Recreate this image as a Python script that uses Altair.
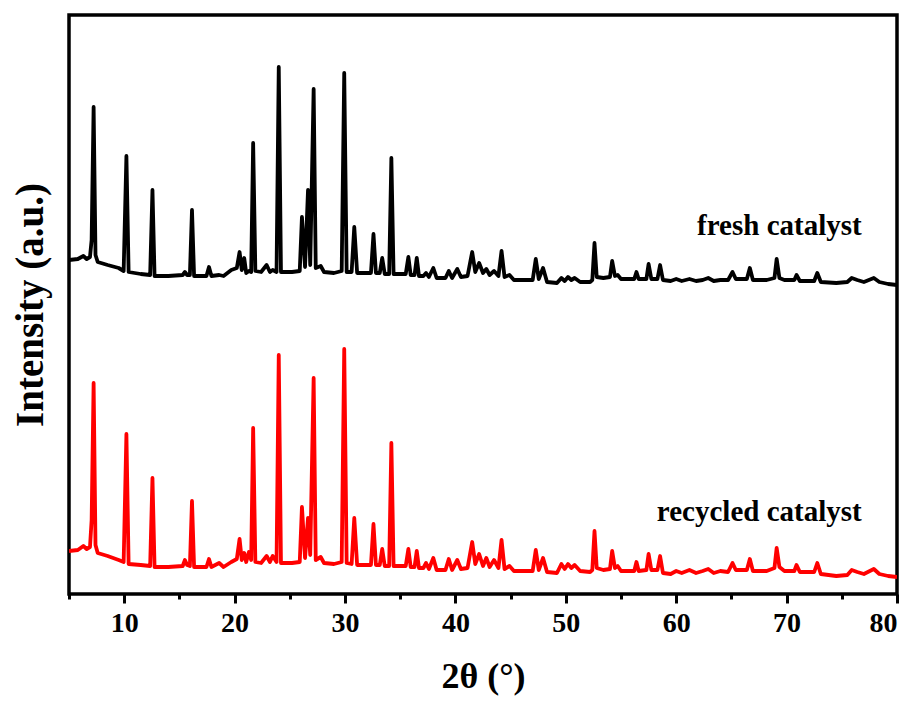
import altair as alt
import pandas as pd

# 2-theta positions of the traced vertices (degrees)
theta = [5.0, 5.8, 6.3, 6.6, 6.9, 7.05, 7.23, 7.4, 7.6, 8.5, 9.5, 9.95, 10.2, 10.4, 11.5,
         12.35, 12.56, 12.75, 14.0, 15.3, 15.5, 15.7, 15.95, 16.14, 16.33, 17.45, 17.68, 17.9,
         18.6, 19.0, 19.7, 20.2, 20.45, 20.65, 20.87, 21.05, 21.3, 21.5, 21.68, 21.88, 22.4,
         22.9, 23.2, 23.45, 23.8, 24.0, 24.2, 25.2, 25.9, 26.1, 26.38, 26.65, 26.85, 27.16,
         27.35, 27.8, 28.1, 29.0, 29.7, 29.93, 30.15, 30.6, 30.84, 31.1, 32.35, 32.58, 32.8,
         33.15, 33.37, 33.6, 34.0, 34.2, 34.4, 35.5, 35.74, 35.95, 36.3, 36.5, 36.7, 37.1,
         37.34, 37.6, 38.0, 38.3, 39.1, 39.4, 39.7, 40.17, 40.5, 41.1, 41.52, 41.8, 42.15,
         42.5, 42.8, 43.1, 43.5, 43.9, 44.18, 44.45, 44.9, 45.3, 46.0, 47.0, 47.28, 47.55,
         47.94, 48.3, 49.2, 49.6, 49.9, 50.2, 50.5, 50.8, 51.3, 52.2, 52.4, 52.6, 52.8, 53.4,
         54.0, 54.2, 54.45, 54.7, 55.0, 56.2, 56.4, 56.6, 57.3, 57.5, 57.75, 58.3, 58.54,
         58.8, 59.5, 60.0, 60.5, 61.2, 61.8, 62.4, 62.9, 63.4, 64.0, 64.7, 65.1, 65.4, 66.4,
         66.67, 66.95, 68.2, 68.9, 69.1, 69.35, 69.8, 70.7, 70.9, 71.2, 72.5, 72.78, 73.1,
         74.5, 75.5, 75.9, 76.4, 77.0, 77.9, 78.4, 79.2, 80.0]

# intensities (a.u., offset as plotted) of the fresh catalyst
fresh = [334, 335, 338, 335, 337, 354, 487, 339, 332, 329, 326, 323, 438, 322, 320,
         319, 404, 318, 318, 319, 322, 319, 319, 384, 318, 318, 327, 318,
         319, 318, 324, 326, 342, 324, 336, 321, 323, 322, 451, 323, 322,
         329, 322, 324, 322, 527, 322, 322, 323, 377, 327, 404, 329, 505,
         326, 328, 322, 321, 323, 521, 322, 322, 367, 321, 321, 360, 321,
         321, 336, 320, 320, 436, 320, 320, 337, 319, 319, 336, 318, 318,
         321, 317, 326, 316, 316, 323, 316, 325, 317, 318, 342, 322, 331,
         321, 325, 319, 323, 318, 343, 317, 319, 314, 314, 314, 335, 315,
         326, 312, 311, 316, 313, 317, 314, 316, 312, 312, 314, 351, 317, 316,
         317, 333, 318, 319, 315, 315, 322, 315, 315, 330, 315, 315, 329,
         314, 313, 315, 313, 315, 313, 314, 316, 313, 314, 314, 322, 315, 315,
         326, 314, 314, 316, 335, 316, 314, 314, 319, 313, 313, 321, 312,
         311, 312, 316, 314, 312, 316, 312, 310, 309]

# intensities (a.u., offset as plotted) of the recycled catalyst
recycled = [43, 44, 48, 45, 47, 74, 211, 49, 41, 38, 34, 32, 160, 30, 29,
            28, 116, 27, 27, 28, 34, 29, 28, 93, 27, 27, 35, 27,
            31, 27, 32, 35, 55, 34, 41, 32, 42, 34, 166, 32, 31,
            38, 32, 38, 32, 239, 31, 31, 32, 87, 36, 76, 39, 216,
            34, 37, 31, 30, 32, 245, 31, 30, 76, 29, 29, 70, 29,
            29, 45, 28, 28, 151, 28, 28, 45, 27, 27, 43, 26, 26,
            31, 25, 36, 24, 24, 35, 24, 34, 25, 26, 52, 30, 40,
            28, 36, 27, 34, 26, 54, 25, 28, 23, 23, 23, 44, 24,
            36, 22, 21, 30, 25, 30, 26, 29, 23, 22, 24, 63, 26, 24,
            25, 43, 26, 28, 23, 23, 32, 23, 24, 40, 24, 24, 38,
            21, 20, 23, 21, 24, 21, 23, 25, 21, 23, 22, 31, 24, 24,
            35, 23, 23, 26, 46, 27, 23, 23, 29, 22, 22, 31, 20,
            18, 19, 24, 22, 20, 25, 20, 18, 17]

series_names = ["fresh catalyst", "recycled catalyst"]
series_colors = ["#000000", "#ff0000"]
x_ticks = [5, 10, 15, 20, 25, 30, 35, 40, 45, 50, 55, 60, 65, 70, 75, 80]

assert len(theta) == len(fresh) == len(recycled)

df = pd.DataFrame({
    "theta": theta * 2,
    "intensity": fresh + recycled,
    "sample": [series_names[0]] * len(theta) + [series_names[1]] * len(theta),
    "order": list(range(len(theta))) * 2,
})

FONT = "Liberation Serif"

x_scale = alt.Scale(domain=[5, 80], nice=False, zero=False)
y_scale = alt.Scale(domain=[0, 579], nice=False, zero=False)

lines = alt.Chart(df).mark_line(strokeWidth=3.8, strokeJoin="round", clip=True).encode(
    x=alt.X("theta:Q", scale=x_scale, title="2θ (°)",
            axis=alt.Axis(values=x_ticks, format="d",
                          labelExpr="datum.value % 10 === 0 ? datum.label : ''",
                          tickSize={"condition": {"test": "datum.value % 10 === 0", "value": 9}, "value": 5},
                          tickWidth=3, tickColor="black", domain=False, grid=False,
                          labelFont=FONT, labelFontSize=28, labelFontWeight="bold", labelColor="black",
                          labelPadding=6, titleFont=FONT, titleFontSize=36, titleFontWeight="bold",
                          titleColor="black", titlePadding=22)),
    y=alt.Y("intensity:Q", scale=y_scale, title="Intensity (a.u.)",
            axis=alt.Axis(ticks=False, labels=False, domain=False, grid=False,
                          titleFont=FONT, titleFontSize=39, titleFontWeight="bold",
                          titleColor="black", titlePadding=19)),
    color=alt.Color("sample:N", scale=alt.Scale(domain=series_names, range=series_colors), legend=None),
    order="order:Q",
    detail="sample:N",
)

label_fresh = alt.Chart().mark_text(
    text=series_names[0], font=FONT, fontSize=29, fontWeight="bold",
    align="right", baseline="alphabetic", color="black"
).encode(x=alt.datum(76.8, scale=x_scale), y=alt.datum(359, scale=y_scale))

label_recycled = alt.Chart().mark_text(
    text=series_names[1], font=FONT, fontSize=29, fontWeight="bold",
    align="right", baseline="alphabetic", color="black"
).encode(x=alt.datum(76.8, scale=x_scale), y=alt.datum(73, scale=y_scale))

chart = alt.layer(lines, label_fresh, label_recycled).properties(
    width=828, height=579,
    autosize=alt.AutoSizeParams(type="none"),
    padding={"left": 69, "top": 15, "right": 24, "bottom": 110},
    background="white",
).configure_view(stroke="black", strokeWidth=3.5)

chart.save("out.html", embed_options={"renderer": "svg", "actions": False})
